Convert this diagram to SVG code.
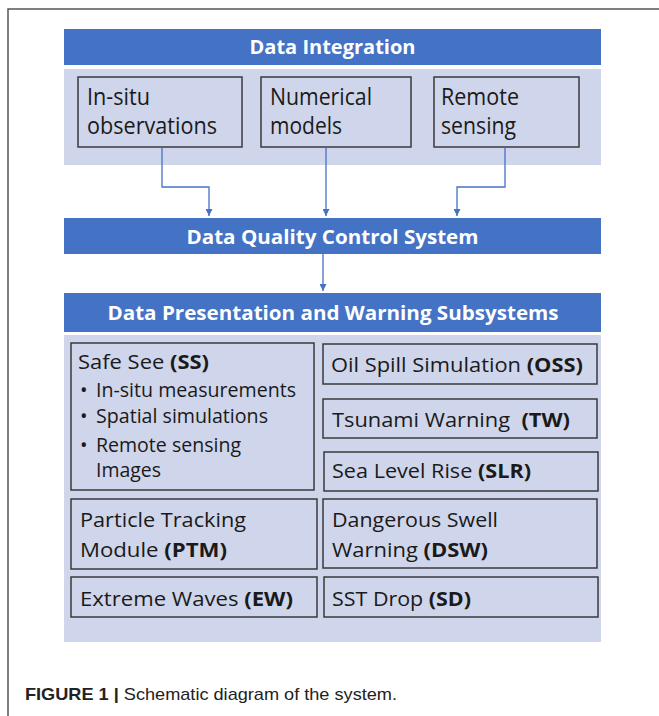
<svg xmlns="http://www.w3.org/2000/svg" width="659" height="716" viewBox="0 0 659 716">
<defs>
<style>
.bar{fill:#4472C4}
.panel{fill:#CFD5EA}
.box{fill:none;stroke:#3a3a3a;stroke-width:1.5}
.hdr{font-family:"Open Sans","Liberation Sans",sans-serif;font-weight:bold;font-size:19px;fill:#ffffff;text-anchor:middle}
.big{font-family:"Open Sans","Liberation Sans",sans-serif;font-size:23px;fill:#1a1a1a}
.lbl{font-family:"Open Sans","Liberation Sans",sans-serif;font-size:20px;fill:#1a1a1a}
.b{font-weight:bold}
.conn{fill:none;stroke:#4472C4;stroke-width:1.3}
.cap{font-family:"Liberation Sans",Arial,sans-serif;font-size:17px;fill:#222}
</style>
<marker id="arr" viewBox="0 0 10 10" refX="10" refY="5" markerWidth="7" markerHeight="7" markerUnits="userSpaceOnUse" orient="auto">
<path d="M0,0 L10,5 L0,10 z" fill="#4472C4"/>
</marker>
</defs>
<rect x="0" y="0" width="659" height="716" fill="#ffffff"/>
<path d="M8,716 L8,9 L659,9" fill="none" stroke="#555" stroke-width="1.5"/>

<g id="data-integration">
<rect class="bar" x="64" y="29" width="537" height="36"/>
<text class="hdr" x="332.5" y="54" textLength="166" lengthAdjust="spacingAndGlyphs">Data Integration</text>
<rect class="panel" x="64" y="69" width="537" height="96"/>
</g>
<g id="in-situ">
<rect class="box" x="78" y="77" width="164" height="70"/>
<text class="big" x="87" y="105" textLength="63" lengthAdjust="spacingAndGlyphs">In-situ</text>
<text class="big" x="87" y="134" textLength="130" lengthAdjust="spacingAndGlyphs">observations</text>
</g>
<g id="numerical">
<rect class="box" x="261" y="77" width="150" height="70"/>
<text class="big" x="270" y="105" textLength="102" lengthAdjust="spacingAndGlyphs">Numerical</text>
<text class="big" x="270" y="134" textLength="72" lengthAdjust="spacingAndGlyphs">models</text>
</g>
<g id="remote">
<rect class="box" x="434" y="77" width="145" height="70"/>
<text class="big" x="441" y="105" textLength="78" lengthAdjust="spacingAndGlyphs">Remote</text>
<text class="big" x="441" y="134" textLength="75" lengthAdjust="spacingAndGlyphs">sensing</text>
</g>

<g id="connectors">
<path class="conn" d="M162,147 L162,187 L209,187 L209,216" marker-end="url(#arr)"/>
<path class="conn" d="M326,147 L326,216" marker-end="url(#arr)"/>
<path class="conn" d="M505,147 L505,187 L457,187 L457,216" marker-end="url(#arr)"/>
<path class="conn" d="M323,254 L323,291" marker-end="url(#arr)"/>
</g>

<g id="quality-control">
<rect class="bar" x="64" y="218" width="537" height="36"/>
<text class="hdr" x="332.5" y="244" textLength="292" lengthAdjust="spacingAndGlyphs">Data Quality Control System</text>
</g>

<g id="presentation">
<rect class="bar" x="64" y="293" width="537" height="39"/>
<text class="hdr" x="333" y="320" textLength="451" lengthAdjust="spacingAndGlyphs">Data Presentation and Warning Subsystems</text>
<rect class="panel" x="64" y="335" width="537" height="307"/>
</g>

<g id="safe-see">
<rect class="box" x="71" y="343" width="243" height="147"/>
<text class="lbl" x="78" y="369" textLength="131" lengthAdjust="spacingAndGlyphs">Safe See <tspan class="b">(SS)</tspan></text>
<text class="lbl" x="80" y="397">•</text>
<text class="lbl" x="96" y="397" textLength="200" lengthAdjust="spacingAndGlyphs">In-situ measurements</text>
<text class="lbl" x="80" y="423">•</text>
<text class="lbl" x="96" y="423" textLength="172" lengthAdjust="spacingAndGlyphs">Spatial simulations</text>
<text class="lbl" x="80" y="452">•</text>
<text class="lbl" x="96" y="452" textLength="145" lengthAdjust="spacingAndGlyphs">Remote sensing</text>
<text class="lbl" x="96" y="477" textLength="65" lengthAdjust="spacingAndGlyphs">Images</text>
</g>
<g id="oss">
<rect class="box" x="323" y="344" width="274" height="40"/>
<text class="lbl" x="331" y="372" textLength="252" lengthAdjust="spacingAndGlyphs">Oil Spill Simulation <tspan class="b">(OSS)</tspan></text>
</g>
<g id="tw">
<rect class="box" x="323" y="399" width="274" height="39"/>
<text class="lbl" x="332" y="427" textLength="238" lengthAdjust="spacingAndGlyphs" xml:space="preserve">Tsunami Warning  <tspan class="b">(TW)</tspan></text>
</g>
<g id="slr">
<rect class="box" x="324" y="452" width="274" height="39"/>
<text class="lbl" x="332" y="478" textLength="199" lengthAdjust="spacingAndGlyphs">Sea Level Rise <tspan class="b">(SLR)</tspan></text>
</g>
<g id="ptm">
<rect class="box" x="71" y="499" width="246" height="70"/>
<text class="lbl" x="80" y="527" textLength="166" lengthAdjust="spacingAndGlyphs">Particle Tracking</text>
<text class="lbl" x="80" y="557" textLength="147" lengthAdjust="spacingAndGlyphs">Module <tspan class="b">(PTM)</tspan></text>
</g>
<g id="dsw">
<rect class="box" x="323" y="499" width="274" height="69"/>
<text class="lbl" x="332" y="527" textLength="166" lengthAdjust="spacingAndGlyphs">Dangerous Swell</text>
<text class="lbl" x="332" y="557" textLength="156" lengthAdjust="spacingAndGlyphs">Warning <tspan class="b">(DSW)</tspan></text>
</g>
<g id="ew">
<rect class="box" x="71" y="577" width="246" height="40"/>
<text class="lbl" x="80" y="606" textLength="213" lengthAdjust="spacingAndGlyphs">Extreme Waves <tspan class="b">(EW)</tspan></text>
</g>
<g id="sd">
<rect class="box" x="324" y="577" width="274" height="40"/>
<text class="lbl" x="332" y="606" textLength="139" lengthAdjust="spacingAndGlyphs">SST Drop <tspan class="b">(SD)</tspan></text>
</g>

<text class="cap" x="25" y="700" textLength="372" lengthAdjust="spacingAndGlyphs"><tspan font-weight="bold">FIGURE 1 |</tspan> Schematic diagram of the system.</text>
</svg>
